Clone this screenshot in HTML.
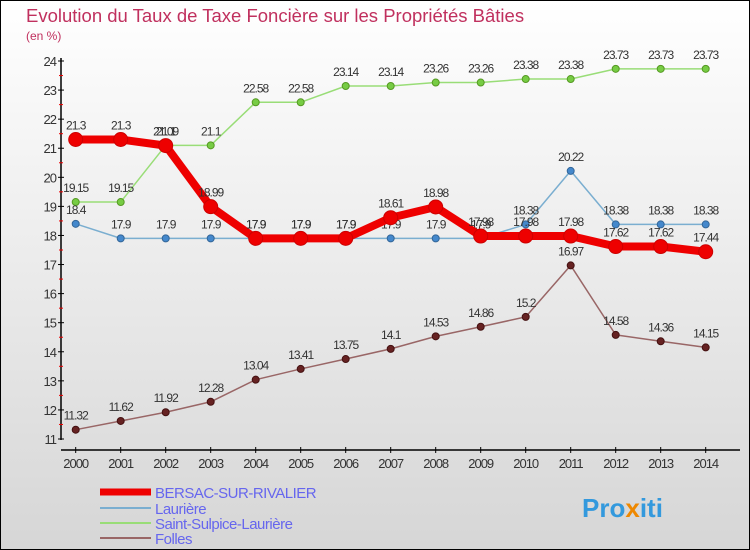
<!DOCTYPE html>
<html><head><meta charset="utf-8"><style>
body{margin:0}
svg{display:block;font-family:"Liberation Sans",sans-serif}
</style></head><body>
<svg width="750" height="550" viewBox="0 0 750 550">
<defs><linearGradient id="bg" x1="0" y1="0" x2="0" y2="1"><stop offset="0" stop-color="#ffffff"/><stop offset="1" stop-color="#d6d6d6"/></linearGradient></defs>
<rect x="0.5" y="0.5" width="749" height="549" fill="url(#bg)" stroke="#000"/>
<text x="26" y="22" font-size="18.5" fill="#c0305e">Evolution du Taux de Taxe Foncière sur les Propriétés Bâties</text>
<text x="26" y="40" font-size="12" fill="#c0305e">(en %)</text>
<g id="axes"></g>
<g id="series"></g>
<g id="legend">
<line x1="100" y1="492" x2="151" y2="492" stroke="#ee0000" stroke-width="7"/>
<text x="155" y="498" font-size="15" letter-spacing="-0.5" fill="#6666ee">BERSAC-SUR-RIVALIER</text>
<line x1="100" y1="508" x2="151" y2="508" stroke="#7aaed0" stroke-width="2"/>
<text x="155" y="514" font-size="15" letter-spacing="-0.5" fill="#6666ee">Laurière</text>
<line x1="100" y1="523" x2="151" y2="523" stroke="#99dd77" stroke-width="2"/>
<text x="155" y="529" font-size="15" letter-spacing="-0.5" fill="#6666ee">Saint-Sulpice-Laurière</text>
<line x1="100" y1="538" x2="151" y2="538" stroke="#996666" stroke-width="2"/>
<text x="155" y="544" font-size="15" letter-spacing="-0.5" fill="#6666ee">Folles</text>
</g>
<text x="582" y="517" font-size="26" font-weight="bold" fill="#3399dd">Pro<tspan fill="#ee8800">x</tspan>iti</text>
</svg>
<script>
const years=[2000,2001,2002,2003,2004,2005,2006,2007,2008,2009,2010,2011,2012,2013,2014];
const yTicks=[11,12,13,14,15,16,17,18,19,20,21,22,23,24];
const bersac=[21.3,21.3,21.09,18.99,17.9,17.9,17.9,18.61,18.98,17.98,17.98,17.98,17.62,17.62,17.44];
const lauriere=[18.4,17.9,17.9,17.9,17.9,17.9,17.9,17.9,17.9,17.9,18.38,20.22,18.38,18.38,18.38];
const sulpice=[19.15,19.15,21.1,21.1,22.58,22.58,23.14,23.14,23.26,23.26,23.38,23.38,23.73,23.73,23.73];
const folles=[11.32,11.62,11.92,12.28,13.04,13.41,13.75,14.1,14.53,14.86,15.2,16.97,14.58,14.36,14.15];
const NS="http://www.w3.org/2000/svg";
const X=i=>75.7+i*45;
const Y=v=>439-(v-11)*(378/13);
function mk(t,a,p){const e=document.createElementNS(NS,t);for(const k in a)e.setAttribute(k,a[k]);p.appendChild(e);return e;}
const ax=document.getElementById('axes');
const yl=mk('line',{x1:61,y1:58,x2:61,y2:440,stroke:'#000','stroke-width':1.5},ax);


const xl=mk('line',{x1:61,y1:450,x2:740,y2:450,stroke:'#000','stroke-width':1.5},ax);


yTicks.forEach(v=>{
 mk('line',{x1:58,y1:Y(v),x2:64,y2:Y(v),stroke:'#000'},ax);
 if(v<24)mk('line',{x1:59,y1:Y(v+0.5),x2:63,y2:Y(v+0.5),stroke:'#e00'},ax);
 const t=mk('text',{x:56,y:Y(v)+5,'font-size':13,'text-anchor':'end',fill:'#333','letter-spacing':'-1'},ax);
 t.textContent=v;
 
 
});
years.forEach((y,i)=>{
 mk('line',{x1:X(i),y1:447,x2:X(i),y2:453,stroke:'#000'},ax);
 const t=mk('text',{x:X(i),y:468,'font-size':13,'text-anchor':'middle',fill:'#333','letter-spacing':'-1'},ax);
 t.textContent=y;
 
 
});
const sg=document.getElementById('series');
function series(data,name,color,w,r,dot,ring){
 const g=mk('g',{},sg);
 
 
 const pl=mk('polyline',{points:data.map((v,i)=>X(i)+','+Y(v)).join(' '),fill:'none',stroke:color,'stroke-width':w,'stroke-linejoin':'round'},g);
 
 
 data.forEach((v,i)=>{
  const c=mk('circle',{cx:X(i),cy:Y(v),r:r,fill:dot,stroke:ring,'stroke-width':1},g);
  
  
  const t=mk('text',{x:X(i),y:Y(v)-10,'font-size':12,'text-anchor':'middle',fill:'#333','letter-spacing':'-1'},g);
  t.textContent=v;
  
  
 });
}
series(folles,'folles','#996666',1.5,3.5,'#662222','#441111');
series(sulpice,'saint-sulpice','#99dd77',1.5,3.5,'#77cc44','#559922');
series(lauriere,'lauriere','#7aaed0',1.5,3.5,'#4488cc','#336699');
series(bersac,'bersac','#ee0000',8,7,'#ee0000','#cc0000');
</script>
</body></html>
